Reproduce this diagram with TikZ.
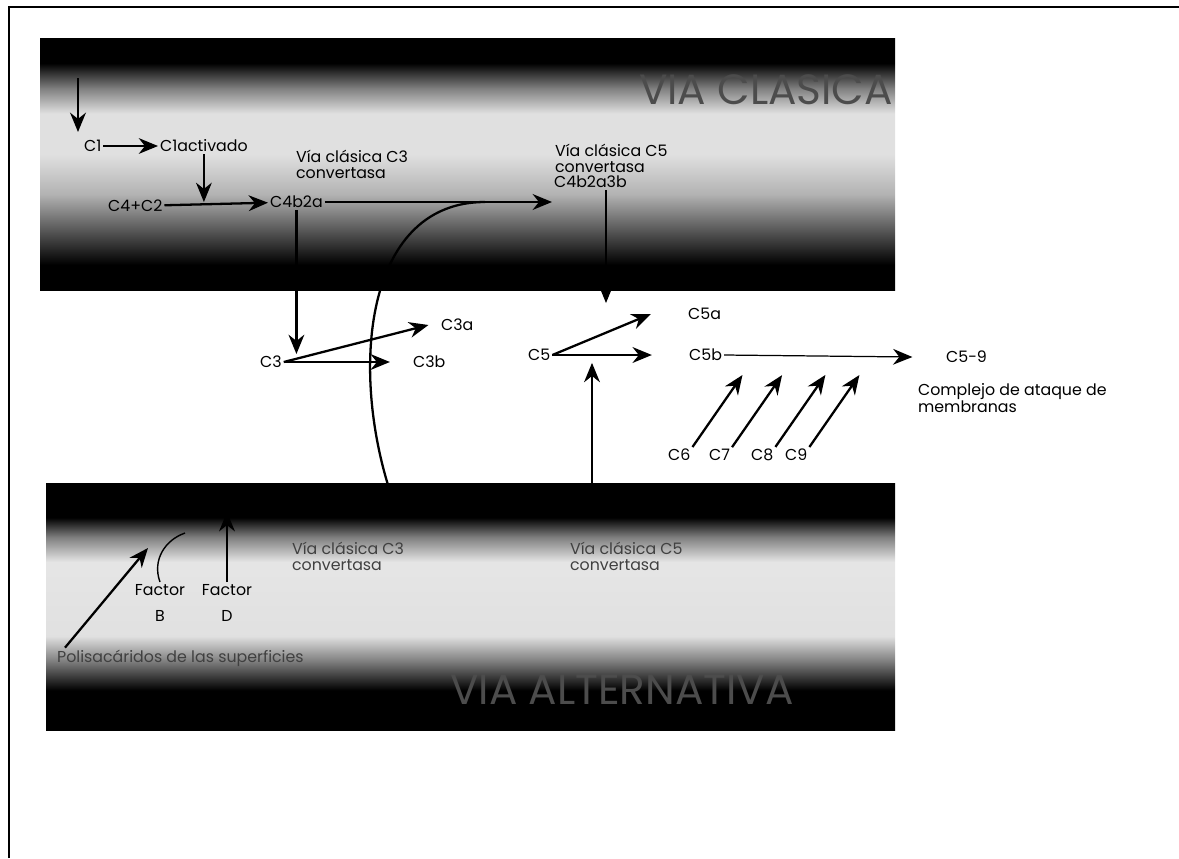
\documentclass[tikz,border=0pt]{standalone}
\usepackage{fontspec}
\setmainfont{Poppins}
\usetikzlibrary{arrows.meta, positioning}
\pgfdeclareverticalshading{clasicashade}{100bp}{color(0bp)=(black); color(30bp)=(black); color(38bp)=(black!60); color(44bp)=(black!30); color(52bp)=(black!12); color(60bp)=(black!12); color(65bp)=(black!50); color(70bp)=(black); color(100bp)=(black)}
\pgfdeclareverticalshading{altshade}{100bp}{color(0bp)=(black); color(33bp)=(black); color(39bp)=(black!50); color(44bp)=(black!12); color(59bp)=(black!10); color(64bp)=(black!50); color(68bp)=(black); color(100bp)=(black)}

\begin{document}
\begin{tikzpicture}[
    x=0.2mm, y=-0.2mm,
    every node/.style={font=\fontsize{9}{9.2}\selectfont, inner sep=1pt},
    lbl/.style={anchor=west},
    title/.style={font=\fontsize{24}{28}\selectfont, text=black!70},
    dim/.style={anchor=west, align=left, text=black!75},
    arrow/.style={->, >={Stealth[length=11pt, width=9pt]}, line width=1.3pt},
    thinarrow/.style={arrow, line width=0.7pt}
]
\useasboundingbox (0,0) rectangle (1179,858);

% frame and banners
\draw[line width=1.2pt] (9,858) -- (9,7) -- (1179,7);
\path[shading=clasicashade] (40,38) rectangle (895,290);
\path[shading=altshade] (46,483) rectangle (895,730);
\node (vclasica) [title] at (766,90) {VIA CLASICA};
\node (valt) [title] at (622,690) {VIA ALTERNATIVA};

% via clasica
\coordinate (start) at (78,78);
\node (c1) [lbl] at (82,146) {C1};
\node (c1act) [lbl] at (158,146) {C1activado};
\node (c4c2) [lbl] at (106,206) {C4+C2};
\node (c4b2a) [lbl] at (268,202) {C4b2a};
\node (conv3) [lbl, align=left] at (294,164) {Vía clásica C3\\convertasa};
\node (conv5) [lbl, align=left] at (553,158) {Vía clásica C5\\convertasa};
\node (c4b2a3b) [lbl] at (552,182) {C4b2a3b};

% cascada central
\node (c3) [lbl] at (258,362) {C3};
\node (c3a) [lbl] at (439,325) {C3a};
\node (c3b) [lbl] at (411,362) {C3b};
\node (c5) [lbl] at (526,355) {C5};
\node (c5a) [lbl] at (686,314) {C5a};
\node (c5b) [lbl] at (687,355) {C5b};
\node (c59) [lbl] at (944,357) {C5-9};
\node (mac) [lbl, align=left] at (916,398) {Complejo de ataque de\\membranas};
\node (c6) [lbl] at (666,455) {C6};
\node (c7) [lbl] at (707,455) {C7};
\node (c8) [lbl] at (749,455) {C8};
\node (c9) [lbl] at (783,455) {C9};

% via alternativa
\node (altconv3) [dim] at (290,556) {Vía clásica C3\\convertasa};
\node (altconv5) [dim] at (568,556) {Vía clásica C5\\convertasa};
\node (facb) [align=center] at (160,603) {Factor\\[6pt]B};
\node (facd) [align=center] at (227,603) {Factor\\[6pt]D};
\node (polis) [dim] at (55,658) {Polisacáridos de las superficies};
\coordinate (altc3) at (388,485);
\coordinate (altc5) at (592,483);
\coordinate (c3join) at (485,202);
\coordinate (c5in) at (606,303);

\draw [arrow] (start) -- (78,132);
\draw [thinarrow] (c1) -- (c1act);
\draw [thinarrow] (c1act.south) -- (c1act.south |- c4b2a);
\draw [arrow] (c4c2) -- (c4b2a);
\draw [arrow] (c4b2a.east) -- (c4b2a.east -| c4b2a3b.south west);
\draw [line width=1.3pt] (altc3) .. controls (350,360) and (368,202) .. (c3join);
\draw [arrow] (c4b2a.south) -- (c4b2a.south |- c3.north);
\draw [arrow] (c3.east) -- ([xshift=-6pt]c3a.west);
\draw [arrow] (c3.east) -- ([xshift=-12pt]c3b.west);
\draw [thinarrow] (c5in |- c4b2a3b.south) -- (c5in);
\draw [arrow] (c5.east) -- ([xshift=-20pt]c5a.west);
\draw [arrow] (c5.east) -- ([xshift=-20pt]c5b.west);
\draw [arrow] (altc5) -- (altc5 |- c5.south);
\draw [thinarrow] (c5b.east) -- ([xshift=-18pt]c59.west);
\foreach \n in {c6,c7,c8,c9}
    \draw [arrow] (\n.north east) -- ++(50,-72);
\draw [line width=0.8pt] (facb.north) .. controls (152,560) and (165,540) .. (185,533);
\draw [thinarrow] (facd.north) -- ++(0,-70);
\draw [arrow] (polis.north west) ++(10,0) -- (148,548);

\end{tikzpicture}
\end{document}
